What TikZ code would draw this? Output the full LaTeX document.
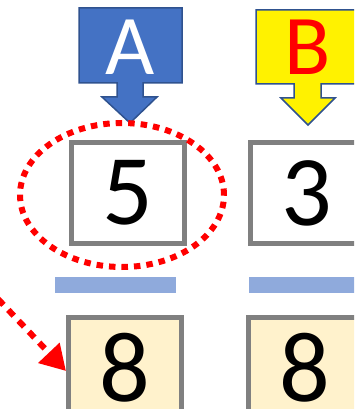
\documentclass[tikz,border=0pt]{standalone}
\usepackage{fontspec}
\newfontfamily\calibri{Carlito}
\usepackage{tikz}
\usetikzlibrary{arrows.meta,shapes.geometric,positioning}
\definecolor{boxgray}{RGB}{128,128,128}
\definecolor{barblue}{RGB}{143,170,220}
\definecolor{calloutblue}{RGB}{68,114,196}
\definecolor{calloutedge}{RGB}{47,82,143}
\definecolor{cellfill}{RGB}{255,242,204}

\begin{document}
\begin{tikzpicture}[x=1pt,y=-1pt,
        numbox/.style={rectangle, draw=boxgray, line width=5pt, fill=white, minimum width=113pt, minimum height=101pt, inner sep=0pt, font=\calibri\fontsize{100}{100}\selectfont},
        sumbox/.style={numbox, fill=cellfill},
        bar/.style={rectangle, fill=barblue, minimum width=121pt, minimum height=16pt, inner sep=0pt},
        callout/.style={draw=calloutedge, line width=1.5pt, line join=miter},
        calltext/.style={font=\calibri\fontsize{85}{85}\selectfont, inner sep=0pt},
        redring/.style={draw=red, line width=6pt, dash pattern=on 6.5pt off 6pt},
        redarrow/.style={draw=red, line width=6pt, dash pattern=on 8pt off 7pt, -{Triangle[length=25pt,width=28pt]}}
    ]
        \useasboundingbox (0,0) rectangle (354,409);
        \clip (0,0) rectangle (354,409);

        % callouts
        \draw[callout, fill=calloutblue] (79,8) -- (182,8) -- (182,83) -- (143,83) -- (143,97) -- (157,97)
            -- (130,123) -- (102,97) -- (117,97) -- (117,83) -- (79,83) -- cycle;
        \draw[callout, fill=yellow] (256,10) -- (359,10) -- (359,84) -- (321,84) -- (321,98) -- (335,98)
            -- (308,125) -- (281,98) -- (294,98) -- (294,84) -- (256,84) -- cycle;
        \node[calltext, white] (labA) at (130.5,47) {A};
        \node[calltext, red] (labB) at (308,47) {B};

        % numbers
        \node[numbox] (topA) at (127.5,193) {5};
        \node[numbox] (topB) at (306.5,193) {3};
        \node[bar] (barA) at (115.5,285) {};
        \node[bar] (barB) at (309.5,285) {};
        \node[sumbox] (botA) at (125,368) {8};
        \node[sumbox] (botB) at (305,368) {8};

        \node[ellipse, redring, minimum width=204pt, minimum height=144pt, inner sep=0pt] (ring) at (122,195) {};

        \coordinate (arrowstart) at (-2,299);
        \draw[redarrow] (arrowstart) -- ([yshift=-3pt]botA.west);
    \end{tikzpicture}
\end{document}
